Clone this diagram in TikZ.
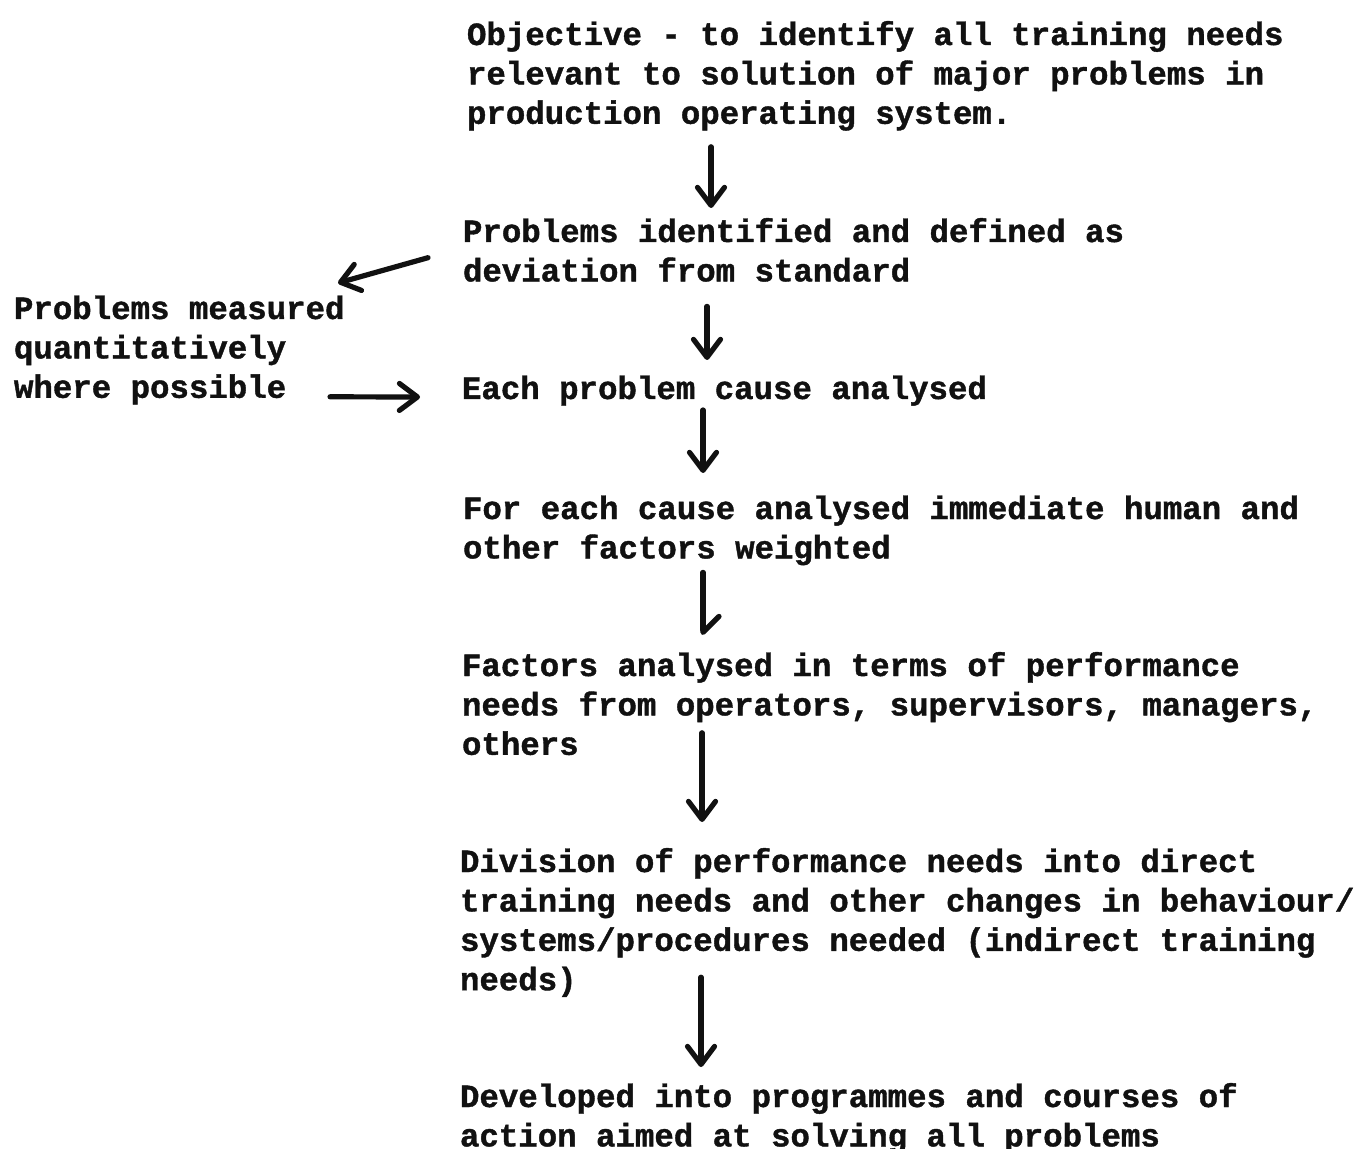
\documentclass[tikz,border=0pt]{standalone}
\usepackage{fontspec}
\newfontfamily\typefont{Liberation Mono}[BoldFeatures={FakeBold=1.2}]
\usetikzlibrary{arrows.meta}
\definecolor{ink}{HTML}{111111}
% struts fixing the top of the first line and the bottom of the last line
\newcommand\tstrut{\rule{0pt}{12pt}}
\newcommand\bstrut{\rule[-3.5pt]{0pt}{3.5pt}}
\tikzset{
  stage/.style={anchor=north west, inner sep=0pt, outer sep=0pt, align=left,
    font=\typefont\bfseries\fontsize{16.2}{19.7}\selectfont, text=ink},
  flow/.style={draw=ink, line width=2.6pt, line cap=round,
    -{Straight Barb[length=9pt,width=13.5pt,round]}},
  halfflow/.style={flow, -{Straight Barb[length=8pt,width=16pt,round,left]}},
}
\begin{document}
\begin{tikzpicture}[x=0.5pt, y=-0.5pt]
  \useasboundingbox (0,0) rectangle (1359,1149);
  \clip (0,0) rectangle (1359,1149);
  \fill[white] (0,0) rectangle (1359,1149);

  % stages of the analysis
  \node[stage] (obj)  at (467,21)  {\tstrut Objective - to identify all training needs\\relevant to solution of major problems in\\production operating system.\bstrut};
  \node[stage] (prob) at (463,218) {\tstrut Problems identified and defined as\\deviation from standard\bstrut};
  \node[stage] (meas) at (14,295)  {\tstrut Problems measured\\quantitatively\\where possible\bstrut};
  \node[stage] (each) at (462,375) {\tstrut Each problem cause analysed\bstrut};
  \node[stage] (fac)  at (463,495) {\tstrut For each cause analysed immediate human and\\other factors weighted\bstrut};
  \node[stage] (perf) at (462,652) {\tstrut Factors analysed in terms of performance\\needs from operators, supervisors, managers,\\others\bstrut};
  \node[stage] (div)  at (460,848) {\tstrut Division of performance needs into direct\\training needs and other changes in behaviour/\\systems/procedures needed (indirect training\\needs)\bstrut};
  \node[stage] (dev)  at (460,1083) {\tstrut Developed into programmes and courses of\\action aimed at solving all problems\bstrut};

  % columns of the downward arrows
  \coordinate (a1) at (711,0);
  \coordinate (a3) at (707,0);
  \coordinate (a5) at (703,0);
  \coordinate (a6) at (703,0);
  \coordinate (a7) at (702,0);
  \coordinate (a8) at (701,0);

  \draw[flow, shorten <=8pt, shorten >=5pt]   (obj.south -| a1)  -- (prob.north -| a1);
  \draw[flow, shorten <=9pt, shorten >=7.5pt] (prob.south -| a3) -- (each.north -| a3);
  \draw[flow, shorten <=2pt, shorten >=11pt]  (each.south -| a5) -- (fac.north -| a5);
  \draw[halfflow, shorten <=3.5pt, shorten >=8.5pt] (fac.south -| a6) -- (perf.north -| a6);
  \draw[flow, shorten <=-14.5pt, shorten >=13pt] (perf.south -| a7) -- (div.north -| a7);
  \draw[flow, shorten <=-10pt, shorten >=8pt]  (div.south -| a8)  -- (dev.north -| a8);

  % side branch
  \draw[flow] ([xshift=-17.5pt,yshift=-2.25pt]prob.west) -- ([xshift=-3.25pt,yshift=6pt]meas.north east);
  \draw[flow] ([xshift=-7.25pt,yshift=4pt]meas.south east) -- ([xshift=-21pt,yshift=-3.25pt]each.west);
\end{tikzpicture}
\end{document}
